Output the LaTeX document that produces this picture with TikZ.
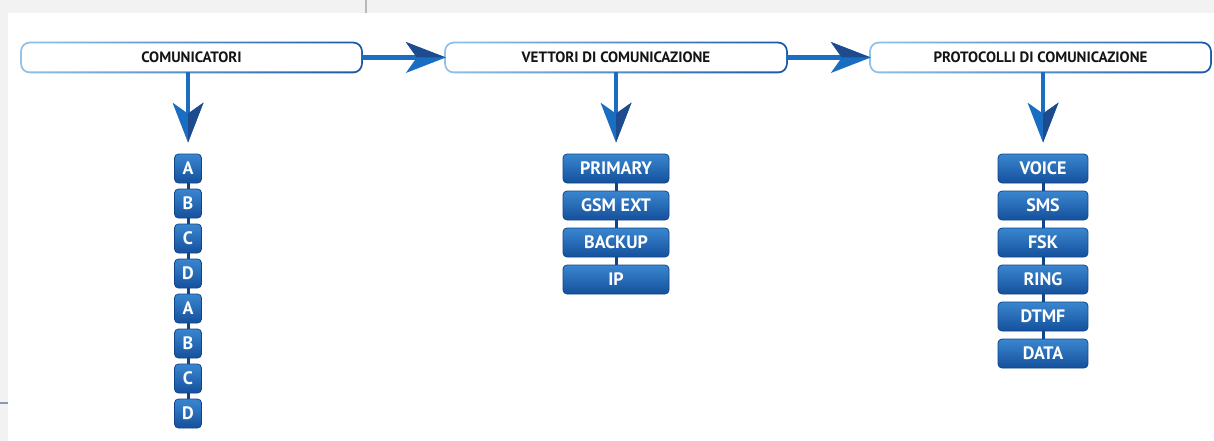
\documentclass[tikz,border=0pt]{standalone}
\usepackage{fontspec}
\setmainfont{PT Sans}
\usetikzlibrary{arrows.meta, positioning, backgrounds}

\definecolor{pagegray}{HTML}{F2F2F2}
\definecolor{edgegray}{HTML}{B8B8B8}
\definecolor{edgeslate}{HTML}{8C98BC}
\definecolor{lightblue}{HTML}{90C2EA}
\definecolor{darkblue}{HTML}{1958A8}
\definecolor{arrowblue}{HTML}{1A6EC2}
\definecolor{arrowdark}{HTML}{1E4A8E}
\definecolor{keytop}{HTML}{3A86D0}
\definecolor{keybot}{HTML}{15509C}
\definecolor{keyline}{HTML}{104689}

\tikzset{
  titlebox/.style={rectangle, rounded corners=8pt, fill=white, minimum width=#1,
    minimum height=28pt, inner sep=0pt, text=black!92,
    font=\fontsize{15}{17}\selectfont\bfseries},
  keybox/.style={rectangle, rounded corners=4pt, top color=keytop, bottom color=keybot,
    draw=keyline, line width=0.8pt, minimum width=#1, minimum height=29pt,
    inner sep=0pt, text=white, font=\fontsize{18}{20}\selectfont\bfseries},
  flow/.style={line width=4.5pt, draw=arrowblue,
    -{Stealth[length=40pt, width=31pt, inset=11pt, line width=0pt, color=arrowblue]}},
  flowhalf/.style={line width=4.5pt, draw=arrowblue,
    -{Stealth[harpoon, length=40pt, width=31pt, inset=11pt, line width=0pt, color=arrowdark]}},
  link/.style={line width=3pt, draw=keyline}
}

\begin{document}
\begin{tikzpicture}[x=1pt, y=-1pt]
  \useasboundingbox (0,0) rectangle (1214,441);

  % intestazioni
  \node[titlebox=339pt] (com) at (191.5,57.5) {COMUNICATORI};
  \node[titlebox=340pt] (vet) at (616,57.5) {VETTORI DI COMUNICAZIONE};
  \node[titlebox=339pt] (pro) at (1040.5,57.5) {PROTOCOLLI DI COMUNICAZIONE};

  % comunicatori
  \foreach \lbl [count=\i] in {A,B,C,D,A,B,C,D}
    \node[keybox=27pt] (com\i) at (188,{168.5+35*(\i-1)}) {\lbl};

  % vettori
  \foreach \lbl [count=\i] in {PRIMARY,GSM EXT,BACKUP,IP}
    \node[keybox=106pt] (vet\i) at (616,{168.5+37*(\i-1)}) {\lbl};

  % protocolli
  \foreach \lbl [count=\i] in {VOICE,SMS,FSK,RING,DTMF,DATA}
    \node[keybox=90pt] (pro\i) at (1043,{168.5+37*(\i-1)}) {\lbl};

  \begin{scope}[on background layer]
    % foglio
    \fill[white] (0,0) rectangle (1214,441);
    \fill[pagegray] (0,0) rectangle (1214,13);
    \fill[pagegray] (0,0) rectangle (8,441);
    \draw[edgegray, line width=1.5pt] (366,0) -- (366,13);
    \draw[edgeslate, line width=1.5pt] (0,403) -- (8,403);
    % bordi sfumati
    \foreach \n in {com,vet,pro}
      \shade[left color=lightblue, right color=darkblue, rounded corners=9.5pt]
        ([shift={(-1.6pt,-1.6pt)}]\n.south west) rectangle ([shift={(1.6pt,1.6pt)}]\n.north east);
    % collegamenti
    \foreach \i [evaluate=\i as \j using int(\i+1)] in {1,...,7}
      \draw[link] (com\i.south) -- (com\j.north);
    \foreach \i [evaluate=\i as \j using int(\i+1)] in {1,...,3}
      \draw[link] (vet\i.south) -- (vet\j.north);
    \foreach \i [evaluate=\i as \j using int(\i+1)] in {1,...,5}
      \draw[link] (pro\i.south) -- (pro\j.north);
  \end{scope}

  % frecce
  \draw[flow] (com.east) -- (vet.west);
  \draw[flowhalf] (com.east) -- (vet.west);
  \draw[flow] (vet.east) -- (pro.west);
  \draw[flowhalf] (vet.east) -- (pro.west);
  \draw[flow] (com.south -| com1) -- ([yshift=11pt]com1.north);
  \draw[flowhalf] (com.south -| com1) -- ([yshift=11pt]com1.north);
  \draw[flow] (vet.south -| vet1) -- ([yshift=11pt]vet1.north);
  \draw[flowhalf] (vet.south -| vet1) -- ([yshift=11pt]vet1.north);
  \draw[flow] (pro.south -| pro1) -- ([yshift=11pt]pro1.north);
  \draw[flowhalf] (pro.south -| pro1) -- ([yshift=11pt]pro1.north);
\end{tikzpicture}
\end{document}
